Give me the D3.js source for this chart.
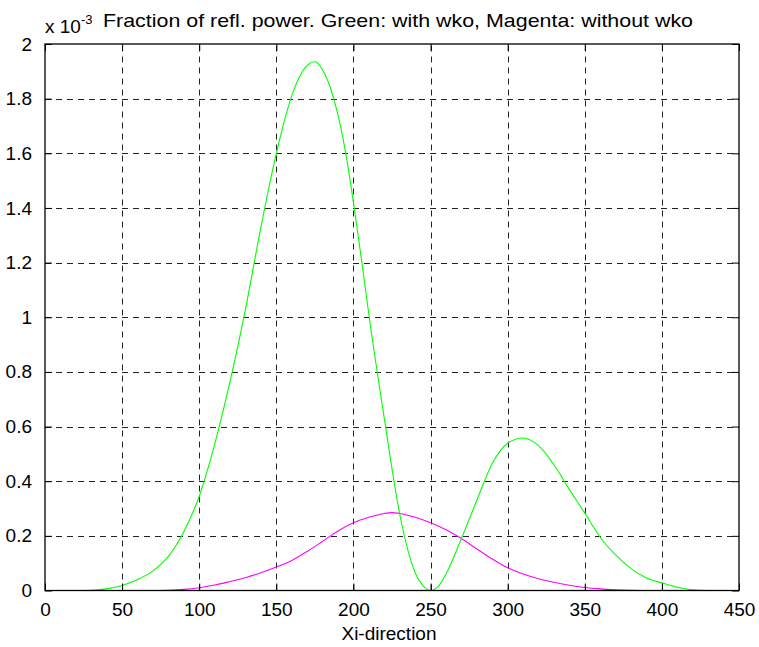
<!DOCTYPE html>
<html>
<head>
<meta charset="utf-8">
<script src="https://cdn.jsdelivr.net/npm/d3@7"></script>
<style>
  html, body { margin: 0; padding: 0; background: #fff; }
  svg text { font-family: "Liberation Sans", Arial, sans-serif; fill: #000; }
</style>
</head>
<body>
<svg id="chart" width="759" height="647"></svg>
<script>
// ---- Data (values in units of 1e-3) ----
const xTicks = [0, 50, 100, 150, 200, 250, 300, 350, 400, 450];
const yTicks = [0, 0.2, 0.4, 0.6, 0.8, 1, 1.2, 1.4, 1.6, 1.8, 2];
const yTickLabels = ["0", "0.2", "0.4", "0.6", "0.8", "1", "1.2", "1.4", "1.6", "1.8", "2"];

const greenX = [0, 10, 20, 30, 40, 50, 60, 70, 80, 90, 100, 110, 120, 130, 140, 150, 160, 165, 170, 175, 180, 185, 190, 195, 200, 205, 210, 220, 230, 240, 245, 250, 255, 260, 270, 280, 290, 300, 310, 320, 330, 340, 350, 360, 370, 380, 390, 400, 410, 420, 430, 440, 450];
const greenY = [0, 0, 0, 0.001, 0.006, 0.018, 0.04, 0.072, 0.125, 0.215, 0.345, 0.535, 0.765, 1.03, 1.33, 1.6, 1.81, 1.88, 1.922, 1.935, 1.905, 1.84, 1.74, 1.6, 1.42, 1.22, 1.01, 0.63, 0.28, 0.065, 0.018, 0.0, 0.015, 0.06, 0.19, 0.33, 0.465, 0.539, 0.558, 0.53, 0.46, 0.37, 0.283, 0.195, 0.13, 0.08, 0.046, 0.028, 0.012, 0.003, 0, 0, 0];

const magentaX = [0, 10, 20, 30, 40, 50, 60, 70, 80, 90, 100, 110, 120, 130, 140, 150, 160, 170, 180, 190, 200, 210, 220, 225, 230, 240, 250, 260, 270, 280, 290, 300, 310, 320, 330, 340, 350, 360, 370, 380, 390, 400, 410, 420, 430, 440, 450];
const magentaY = [0, 0, 0, 0, 0, 0, 0, 0, 0.001, 0.004, 0.01, 0.02, 0.033, 0.047, 0.065, 0.086, 0.11, 0.143, 0.18, 0.218, 0.248, 0.268, 0.282, 0.285, 0.282, 0.268, 0.248, 0.222, 0.19, 0.152, 0.115, 0.083, 0.06, 0.043, 0.03, 0.019, 0.011, 0.006, 0.003, 0.001, 0, 0, 0, 0, 0, 0, 0];

const titleText = "Fraction of refl. power. Green: with wko, Magenta: without wko";
const xLabel = "Xi-direction";

// ---- Layout ----
const svg = d3.select("#chart");
const mLeft = 45, mRight = 739, mTop = 44, mBottom = 590.5;
const fs = 19;
const ff = '"Liberation Sans", Arial, sans-serif';

const x = d3.scaleLinear().domain([0, 450]).range([mLeft, mRight]);
const y = d3.scaleLinear().domain([0, 2]).range([mBottom, mTop]);

// grid
const grid = svg.append("g");
grid.selectAll("line.vg").data(xTicks.slice(1, -1)).enter().append("line")
  .attr("x1", d => Math.round(x(d)) + 0.5).attr("x2", d => Math.round(x(d)) + 0.5).attr("y1", mBottom).attr("y2", mTop)
  .attr("stroke", "#222").attr("stroke-width", 1).attr("stroke-dasharray", "6,5");
grid.selectAll("line.hg").data(yTicks.slice(1, -1)).enter().append("line")
  .attr("y1", d => Math.round(y(d)) + 0.5).attr("y2", d => Math.round(y(d)) + 0.5).attr("x1", mLeft).attr("x2", mRight)
  .attr("stroke", "#222").attr("stroke-width", 1).attr("stroke-dasharray", "6,5");

// lines
const line = d3.line().x(d => x(d[0])).y(d => y(d[1])).curve(d3.curveMonotoneX);
svg.append("path").datum(magentaX.map((v, i) => [v, magentaY[i]]))
  .attr("d", line).attr("fill", "none").attr("stroke", "#ff00ff").attr("stroke-width", 1.1);
svg.append("path").datum(greenX.map((v, i) => [v, greenY[i]]))
  .attr("d", line).attr("fill", "none").attr("stroke", "#00ff00").attr("stroke-width", 1.1);

// axes with inward ticks
const tickLen = 7;
const xAxisB = d3.axisBottom(x).tickValues(xTicks).tickSize(-tickLen).tickPadding(tickLen + 5);
const gx = svg.append("g").attr("transform", `translate(0,${mBottom})`).call(xAxisB);
gx.select(".domain").remove();
gx.selectAll("text").attr("font-size", fs).style("font-family", ff);

const xAxisT = d3.axisTop(x).tickValues(xTicks).tickSize(-tickLen).tickFormat("");
const gxt = svg.append("g").attr("transform", `translate(0,${mTop})`).call(xAxisT);
gxt.select(".domain").remove();

const yAxisL = d3.axisLeft(y).tickValues(yTicks).tickFormat((d, i) => yTickLabels[i]).tickSize(-tickLen).tickPadding(tickLen + 6);
const gy = svg.append("g").attr("transform", `translate(${mLeft},0)`).call(yAxisL);
gy.select(".domain").remove();
gy.selectAll("text").attr("font-size", fs).style("font-family", ff);

const yAxisR = d3.axisRight(y).tickValues(yTicks).tickSize(-tickLen).tickFormat("");
const gyr = svg.append("g").attr("transform", `translate(${mRight},0)`).call(yAxisR);
gyr.select(".domain").remove();

// box
svg.append("rect").attr("x", mLeft).attr("y", mTop).attr("width", mRight - mLeft).attr("height", mBottom - mTop)
  .attr("fill", "none").attr("stroke", "#000").attr("stroke-width", 1.3);

// exponent label
const ex = svg.append("text").attr("x", mLeft).attr("y", 33).attr("font-size", fs);
ex.append("tspan").text("x 10");
ex.append("tspan").attr("dy", -9).attr("font-size", 13).text("-3");

// title
svg.append("text").attr("x", 103).attr("y", 27).attr("font-size", fs)
  .attr("textLength", 590).attr("lengthAdjust", "spacingAndGlyphs").text(titleText);

// x label
svg.append("text").attr("x", 389).attr("y", 640).attr("text-anchor", "middle").attr("font-size", fs).text(xLabel);
</script>
</body>
</html>
